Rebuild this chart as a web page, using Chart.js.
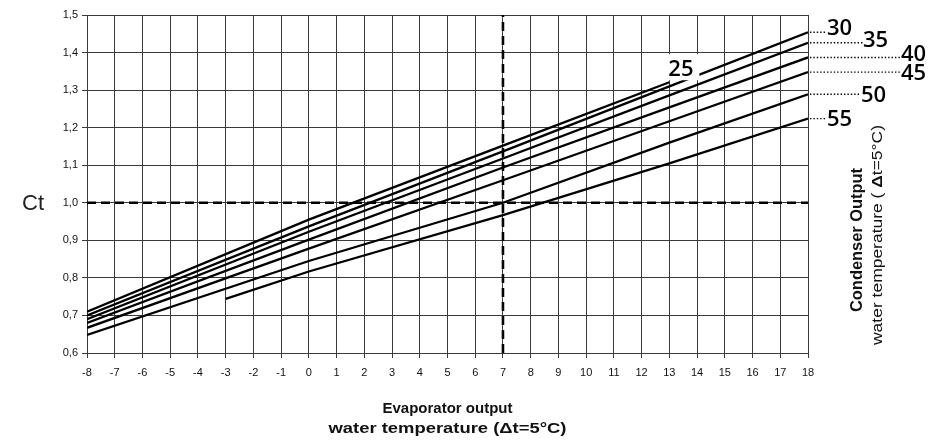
<!DOCTYPE html>
<html><head><meta charset="utf-8">
<script src="https://cdn.jsdelivr.net/npm/chart.js@4/dist/chart.umd.min.js"></script>
<style>html,body{margin:0;padding:0;background:#fff}#wrap{width:941px;height:444px;position:relative}</style>
</head><body><div id="wrap"><canvas id="c" width="941" height="444"></canvas></div>
<script>
// ---- data ----
const evapTemps   = [-8, 0, 7, 13, 18];
const evapTemps55 = [-3, 0, 7, 13, 18];
const ct25 = [0.710, 0.955, 1.152, 1.321, null];
const ct30 = [0.700, 0.937, 1.137, 1.310, 1.454];
const ct35 = [0.690, 0.923, 1.118, 1.286, 1.426];
const ct40 = [0.680, 0.902, 1.094, 1.254, 1.387];
const ct45 = [0.667, 0.878, 1.060, 1.217, 1.348];
const ct50 = [0.648, 0.845, 1.000, 1.160, 1.289];
const ct55 = [0.744, 0.817, 0.967, 1.105, 1.224];
const condLabels = ['25', '30', '35', '40', '45', '50', '55'];
const xTickValues = [-8,-7,-6,-5,-4,-3,-2,-1,0,1,2,3,4,5,6,7,8,9,10,11,12,13,14,15,16,17,18];
const yTickValues = [0.6,0.7,0.8,0.9,1.0,1.1,1.2,1.3,1.4,1.5];
const refCt = 1.0;
const refEvap = 7;

// ---- styling ----
const labelOffsetX = {'30': 20, '35': 56, '40': 94, '45': 94, '50': 54, '55': 20};
const labelOffsetY = {'30': -5, '35': -3, '40': -4, '45': 1, '50': 0, '55': 0};
const SANS = '"Liberation Sans", Arial, sans-serif';

function pts(xs, ys) {
  const out = [];
  xs.forEach((x, i) => { if (ys[i] !== null) out.push({x: x, y: ys[i]}); });
  return out;
}
const seriesY = [ct25, ct30, ct35, ct40, ct45, ct50, ct55];
const seriesX = [evapTemps, evapTemps, evapTemps, evapTemps, evapTemps, evapTemps, evapTemps55];

const datasets = seriesY.map((ys, i) => ({
  label: condLabels[i],
  data: pts(seriesX[i], ys),
  borderColor: '#000', borderWidth: 2.3, pointRadius: 0, fill: false, tension: 0
}));
datasets.push({
  label: 'refH', data: [{x: xTickValues[0], y: refCt}, {x: xTickValues[xTickValues.length-1], y: refCt}],
  borderColor: '#000', borderWidth: 2.6, borderDash: [9, 5], pointRadius: 0, fill: false
});
datasets.push({
  label: 'refV', data: [{x: refEvap, y: yTickValues[0]}, {x: refEvap, y: yTickValues[yTickValues.length-1]}],
  borderColor: '#000', borderWidth: 2.6, borderDash: [9, 5], pointRadius: 0, fill: false
});

function fitText(ctx, txt, x, y, targetW) {
  const w = ctx.measureText(txt).width;
  ctx.save();
  ctx.translate(x, y);
  ctx.scale(targetW / w, 1);
  ctx.textAlign = 'center';
  ctx.fillText(txt, 0, 0);
  ctx.restore();
}

const annot = {
  id: 'annot',
  afterDatasetsDraw(chart) {
    const ctx = chart.ctx, xs = chart.scales.x, ys = chart.scales.y, ca = chart.chartArea;
    ctx.save();
    // right end labels with dotted leaders
    ctx.font = '600 22px "Open Sans", "Liberation Sans", sans-serif';
    ctx.textBaseline = 'middle';
    ctx.textAlign = 'left';
    for (let i = 1; i < condLabels.length; i++) {
      const lab = condLabels[i];
      const ysr = seriesY[i], xsr = seriesX[i];
      const px = xs.getPixelForValue(xsr[xsr.length-1]);
      const py = ys.getPixelForValue(ysr[ysr.length-1]);
      const lx = ca.right + labelOffsetX[lab];
      ctx.strokeStyle = '#000'; ctx.lineWidth = 1.4; ctx.setLineDash([1.4, 2]);
      ctx.beginPath(); ctx.moveTo(px + 2, py); ctx.lineTo(lx - 1, py); ctx.stroke();
      ctx.setLineDash([]);
      ctx.fillStyle = '#000';
      ctx.fillText(lab, lx - 1, py + labelOffsetY[lab] + 1);
    }
    // label for 25 at its end with white box
    const e25x = xs.getPixelForValue(evapTemps[3]);
    const e25y = ys.getPixelForValue(ct25[3]);
    ctx.fillStyle = '#fff';
    ctx.fillRect(e25x - 2, e25y - 28, 32, 26);
    ctx.fillStyle = '#000';
    ctx.fillText(condLabels[0], e25x - 1, e25y - 12);

    // Ct
    ctx.font = '22px ' + SANS;
    ctx.fillStyle = '#222';
    ctx.textAlign = 'left';
    ctx.fillText('Ct', 22, ys.getPixelForValue(refCt) + 1);

    // bottom title
    ctx.font = 'bold 15px ' + SANS;
    ctx.fillStyle = '#111';
    const cx = (ca.left + ca.right) / 2;
    ctx.textAlign = 'center';
    ctx.fillText('Evaporator output', cx, 409);
    fitText(ctx, 'water temperature (\u0394t=5\u00B0C)', cx, 429, 238);

    // right rotated title
    ctx.save();
    ctx.translate(858, 240);
    ctx.rotate(-Math.PI / 2);
    ctx.font = 'bold 16px ' + SANS;
    ctx.textAlign = 'center';
    fitText(ctx, 'Condenser Output', 0, 0, 144);
    ctx.restore();
    ctx.save();
    ctx.translate(878, 235);
    ctx.rotate(-Math.PI / 2);
    const p1 = 'water temperature ( ', p2 = '\u0394', p3 = 't=5\u00B0C)';
    ctx.font = '15px ' + SANS;
    const w1 = ctx.measureText(p1).width, w3 = ctx.measureText(p3).width;
    ctx.font = 'bold 15px ' + SANS;
    const w2 = ctx.measureText(p2).width;
    const total = w1 + w2 + w3, k = 220 / total;
    ctx.scale(k, 1);
    ctx.textAlign = 'left';
    let sx = -total / 2;
    ctx.font = '15px ' + SANS;
    ctx.fillText(p1, sx, 0); sx += w1;
    ctx.font = 'bold 15px ' + SANS;
    ctx.fillText(p2, sx, 0); sx += w2;
    ctx.font = '15px ' + SANS;
    ctx.fillText(p3, sx, 0);
    ctx.restore();
    ctx.restore();
  }
};

new Chart(document.getElementById('c'), {
  type: 'line',
  data: { datasets: datasets },
  options: {
    responsive: false, animation: false,
    layout: { padding: { left: 0, right: 133, top: 15, bottom: 0 } },
    plugins: { legend: { display: false }, tooltip: { enabled: false } },
    scales: {
      x: {
        type: 'linear', min: -8, max: 18,
        afterBuildTicks(s) { s.ticks = xTickValues.map(v => ({value: v})); },
        afterFit(s) { s.height = 91; },
        grid: { color: '#3a3a3a', lineWidth: 1, tickLength: 5, drawTicks: true },
        border: { display: false },
        ticks: { color: '#111', font: { family: SANS, size: 11 }, padding: 8, maxRotation: 0, autoSkip: false,
          callback: v => String(v) }
      },
      y: {
        type: 'linear', min: 0.6, max: 1.5,
        afterBuildTicks(s) { s.ticks = yTickValues.map(v => ({value: v})); },
        afterFit(s) { s.width = 87; },
        grid: { color: '#3a3a3a', lineWidth: 1, tickLength: 5, drawTicks: true },
        border: { display: false },
        ticks: { color: '#111', font: { family: SANS, size: 11 }, padding: 4, autoSkip: false,
          callback: v => Number(v).toFixed(1).replace('.', ',') }
      }
    }
  },
  plugins: [annot]
});
</script></body></html>
